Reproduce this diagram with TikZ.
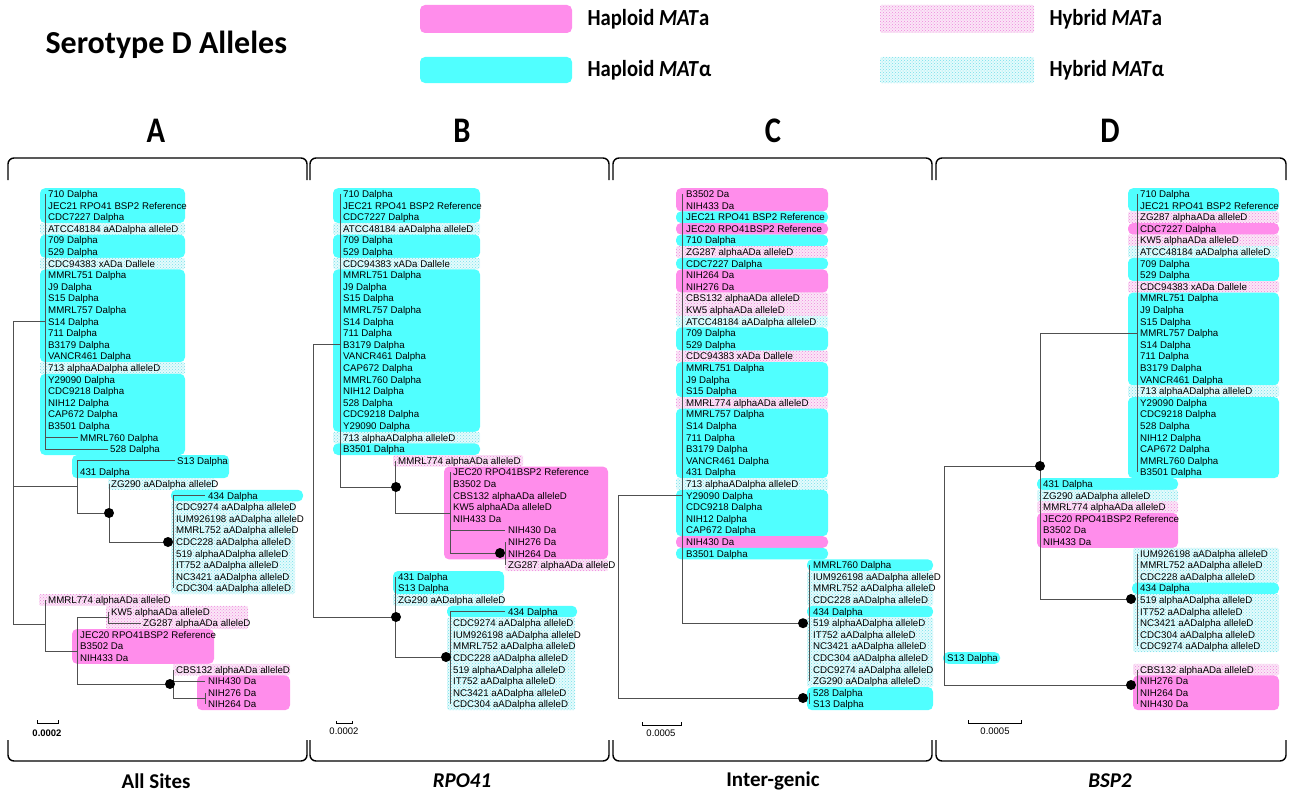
\documentclass[tikz,border=0pt]{standalone}
\usepackage{fontspec}
\setmainfont{Carlito}
\newfontfamily\arialf{Liberation Sans}
\usetikzlibrary{patterns}
\definecolor{hpa}{HTML}{FF8DEB}
\definecolor{hpal}{HTML}{50FFFF}
\definecolor{hya}{HTML}{FBE6F7}
\definecolor{hyad}{HTML}{EE88DD}
\definecolor{hyal}{HTML}{E4FBFC}
\definecolor{hyald}{HTML}{77E0EA}
\definecolor{trc}{HTML}{505050}
\newcounter{lf}
\newcommand\RY[1]{194+11.6*(#1)}
\newcommand\lf[3]{\stepcounter{lf}\node[leaf] (L\arabic{lf}) at (#1,{\RY{#2}}) {#3};}
\newcommand\bx[5]{\path[#1] (#2,{\RY{#4}-5.8}) rectangle (#3,{\RY{#5}+5.8});}
\newcommand\dt[3]{\node[dot] (#1) at (#2,#3) {};}
\tikzset{
 leaf/.style={anchor=west,inner sep=0pt,font=\arialf\fontsize{9.7}{10}\selectfont,text height=7pt,text depth=0pt},
 A/.style={fill=hpa,rounded corners=5pt},
 L/.style={fill=hpal,rounded corners=5pt},
 HA/.style={fill=hya,rounded corners=1.5pt,postaction={pattern=crosshatch dots,pattern color=hyad}},
 HL/.style={fill=hyal,rounded corners=1.5pt,postaction={pattern=crosshatch dots,pattern color=hyald}},
 tr/.style={draw=trc,line width=0.8pt},
 dot/.style={circle,fill=black,inner sep=0pt,minimum size=10pt},
 br/.style={draw=black,line width=1.4pt,rounded corners=6pt},
 lab/.style={font=\bfseries\fontsize{36}{40}\selectfont},
 blab/.style={font=\bfseries\fontsize{21}{24}\selectfont},
 leg/.style={anchor=west,font=\bfseries\fontsize{23}{26}\selectfont},
 sc/.style={font=\arialf\fontsize{9.5}{10}\selectfont}
}
\begin{document}
\begin{tikzpicture}[x=1pt,y=-1pt]
\useasboundingbox (0,0) rectangle (1293,800);
% header
\node[anchor=west,font=\bfseries\fontsize{32}{36}\selectfont] (title) at (42,45) {Serotype D Alleles};
\path[A] (420,5) rectangle (572,33); \node[leg] (l1) at (584,19) {\scalebox{0.9}[1]{Haploid \textit{MAT}a}};
\path[L] (420,57) rectangle (572,83); \node[leg] (l2) at (584,70) {\scalebox{0.9}[1]{Haploid \textit{MAT}α}};
\path[HA] (880,5) rectangle (1034,33); \node[leg] (l3) at (1046,19) {\scalebox{0.9}[1]{Hybrid \textit{MAT}a}};
\path[HL] (880,57) rectangle (1034,83); \node[leg] (l4) at (1046,70) {\scalebox{0.9}[1]{Hybrid \textit{MAT}α}};
\node[lab] (pa) at (156,131) {\scalebox{0.85}[1]{A}};
\node[lab] (pb) at (462,131) {\scalebox{0.85}[1]{B}};
\node[lab] (pc) at (773,131) {\scalebox{0.85}[1]{C}};
\node[lab] (pd) at (1110,131) {\scalebox{0.85}[1]{D}};
\node[blab] (ba) at (156,781) {All Sites};
\node[blab] (bb) at (462,781) {\textit{RPO41}};
\node[blab] (bc) at (773,781) {Inter-genic};
\node[blab] (bd) at (1110,781) {\textit{BSP2}};
% brackets
\foreach \a/\b in {8/307,310/609,613/932,936/1286}{
 \draw[br] (\a,180) -- (\a,158) -- (\b,158) -- (\b,180);
 \draw[br] (\a,740) -- (\a,761) -- (\b,761) -- (\b,740);
}
% ===== Panel A =====
\bx{L}{40}{185}{0}{2} \bx{HL}{40}{185}{3}{3} \bx{L}{40}{185}{4}{5} \bx{HL}{40}{185}{6}{6}
\bx{L}{40}{185}{7}{14} \bx{HL}{40}{185}{15}{15} \bx{L}{40}{185}{16}{22}
\bx{L}{72}{229}{23}{24} \bx{HL}{108}{215}{25}{25} \bx{L}{171}{303}{26}{26} \bx{HL}{171}{295}{27}{34}
\bx{HA}{39}{170}{35}{35} \bx{HA}{106}{248}{36}{37} \bx{A}{72}{214}{38}{40}
\bx{HA}{173}{290}{41}{41} \bx{A}{197}{290}{42}{44}
\foreach \r/\t in {0/710 Dalpha,1/JEC21 RPO41 BSP2 Reference,2/CDC7227 Dalpha,3/ATCC48184 aADalpha alleleD,4/709 Dalpha,5/529 Dalpha,6/CDC94383 xADa Dallele,7/MMRL751 Dalpha,8/J9 Dalpha,9/S15 Dalpha,10/MMRL757 Dalpha,11/S14 Dalpha,12/711 Dalpha,13/B3179 Dalpha,14/VANCR461 Dalpha,15/713 alphaADalpha alleleD,16/Y29090 Dalpha,17/CDC9218 Dalpha,18/NIH12 Dalpha,19/CAP672 Dalpha,20/B3501 Dalpha,35/MMRL774 alphaADa alleleD}{\lf{48}{\r}{\t}}
\lf{80}{21}{MMRL760 Dalpha} \lf{110}{22}{528 Dalpha}
\lf{177}{23}{S13 Dalpha} \lf{80}{24}{431 Dalpha} \lf{111}{25}{ZG290 aADalpha alleleD} \lf{208}{26}{434 Dalpha}
\foreach \r/\t in {27/CDC9274 aADalpha alleleD,28/IUM926198 aADalpha alleleD,29/MMRL752 aADalpha alleleD,30/CDC228 aADalpha alleleD,31/519 alphaADalpha alleleD,32/IT752 aADalpha alleleD,33/NC3421 aADalpha alleleD,34/CDC304 aADalpha alleleD,41/CBS132 alphaADa alleleD}{\lf{176}{\r}{\t}}
\lf{111}{36}{KW5 alphaADa alleleD} \lf{143}{37}{ZG287 alphaADa alleleD}
\lf{80}{38}{JEC20 RPO41BSP2 Reference} \lf{80}{39}{B3502 Da} \lf{80}{40}{NIH433 Da}
\lf{208}{42}{NIH430 Da} \lf{208}{43}{NIH276 Da} \lf{208}{44}{NIH264 Da}
\draw[tr] (45,{\RY{0}}) -- (45,{\RY{22}}) (45,{\RY{21}}) -- (78,{\RY{21}}) (45,{\RY{22}}) -- (108,{\RY{22}});
\draw[tr] (13,{\RY{11}}) -- (13,624) (13,{\RY{11}}) -- (45,{\RY{11}});
\draw[tr] (13,486) -- (77,486) (77,{\RY{23}}) -- (77,513) (77,{\RY{23}}) -- (175,{\RY{23}}) (77,513) -- (109,513)
 (109,{\RY{25}}) -- (109,542) -- (170,542) (173,{\RY{26}}) -- (173,{\RY{34}}) (173,{\RY{26}}) -- (205,{\RY{26}});
\draw[tr] (13,624) -- (45,624) (45,{\RY{35}}) -- (45,651) -- (77,651) (77,617) -- (77,684) (77,617) -- (108,617)
 (108,{\RY{36}}) -- (108,{\RY{37}}) -- (141,{\RY{37}}) (77,684) -- (170,684) (173,{\RY{41}}) -- (173,698) -- (205,698)
 (173,{\RY{42}}) -- (205,{\RY{42}}) (205,{\RY{43}}) -- (205,{\RY{44}});
\dt{a1}{109}{513} \dt{a2}{168}{542} \dt{a3}{170}{684}
\draw[line width=0.7pt] (37,720) -- (37,723) -- (58,723) -- (58,720);
\node[sc,font=\arialf\bfseries\fontsize{9.5}{10}\selectfont] (sa) at (47,733) {0.0002};
% ===== Panel B =====
\bx{L}{333}{480}{0}{2} \bx{HL}{333}{480}{3}{3} \bx{L}{333}{480}{4}{5} \bx{HL}{333}{480}{6}{6}
\bx{L}{333}{480}{7}{20} \bx{HL}{333}{480}{21}{21} \bx{L}{333}{480}{22}{22}
\bx{HA}{393}{523}{23}{23} \bx{A}{444}{608}{24}{31} \bx{HA}{505}{608}{32}{32}
\bx{L}{393}{504}{33}{34} \bx{HL}{393}{504}{35}{35} \bx{L}{447}{577}{36}{36} \bx{HL}{447}{575}{37}{44}
\foreach \r/\t in {0/710 Dalpha,1/JEC21 RPO41 BSP2 Reference,2/CDC7227 Dalpha,3/ATCC48184 aADalpha alleleD,4/709 Dalpha,5/529 Dalpha,6/CDC94383 xADa Dallele,7/MMRL751 Dalpha,8/J9 Dalpha,9/S15 Dalpha,10/MMRL757 Dalpha,11/S14 Dalpha,12/711 Dalpha,13/B3179 Dalpha,14/VANCR461 Dalpha,15/CAP672 Dalpha,16/MMRL760 Dalpha,17/NIH12 Dalpha,18/528 Dalpha,19/CDC9218 Dalpha,20/Y29090 Dalpha,21/713 alphaADalpha alleleD,22/B3501 Dalpha}{\lf{343}{\r}{\t}}
\lf{398}{23}{MMRL774 alphaADa alleleD}
\foreach \r/\t in {24/JEC20 RPO41BSP2 Reference,25/B3502 Da,26/CBS132 alphaADa alleleD,27/KW5 alphaADa alleleD,28/NIH433 Da,37/CDC9274 aADalpha alleleD,38/IUM926198 aADalpha alleleD,39/MMRL752 aADalpha alleleD,40/CDC228 aADalpha alleleD,41/519 alphaADalpha alleleD,42/IT752 aADalpha alleleD,43/NC3421 aADalpha alleleD,44/CDC304 aADalpha alleleD}{\lf{453}{\r}{\t}}
\lf{508}{29}{NIH430 Da} \lf{508}{30}{NIH276 Da} \lf{508}{31}{NIH264 Da} \lf{508}{32}{ZG287 alphaADa alleleD}
\lf{398}{33}{431 Dalpha} \lf{398}{34}{S13 Dalpha} \lf{398}{35}{ZG290 aADalpha alleleD} \lf{508}{36}{434 Dalpha}
\draw[tr] (340,{\RY{0}}) -- (340,487) -- (396,487) (313,{\RY{13}}) -- (313,617) (313,{\RY{13}}) -- (340,{\RY{13}})
 (395,{\RY{23}}) -- (395,513) -- (450,513) (450,{\RY{24}}) -- (450,553) -- (500,553) (450,{\RY{29}}) -- (505,{\RY{29}})
 (505,{\RY{30}}) -- (505,{\RY{32}})
 (313,617) -- (396,617) (395,{\RY{33}}) -- (395,657) -- (446,657) (450,{\RY{36}}) -- (450,{\RY{44}}) (450,{\RY{36}}) -- (505,{\RY{36}});
\dt{b1}{396}{487} \dt{b2}{500}{553} \dt{b3}{396}{617} \dt{b4}{446}{657}
\draw[line width=0.7pt] (336,721) -- (336,723) -- (352,723) -- (352,721);
\node[sc] (sb) at (344,731) {0.0002};
% ===== Panel C =====
\bx{A}{676}{828}{0}{1} \bx{L}{676}{828}{2}{2} \bx{A}{676}{828}{3}{3} \bx{L}{676}{828}{4}{4}
\bx{HA}{676}{828}{5}{5} \bx{L}{676}{828}{6}{6} \bx{A}{676}{828}{7}{8} \bx{HA}{676}{828}{9}{10}
\bx{HL}{676}{828}{11}{11} \bx{L}{676}{828}{12}{13} \bx{HA}{676}{828}{14}{14} \bx{L}{676}{828}{15}{17}
\bx{HA}{676}{828}{18}{18} \bx{L}{676}{828}{19}{24} \bx{HL}{676}{828}{25}{25} \bx{L}{676}{828}{26}{29}
\bx{A}{676}{828}{30}{30} \bx{L}{676}{828}{31}{31}
\bx{L}{807}{933}{32}{32} \bx{HL}{807}{933}{33}{35} \bx{L}{807}{933}{36}{36} \bx{HL}{807}{933}{37}{42} \bx{L}{807}{933}{43}{44}
\foreach \r/\t in {0/B3502 Da,1/NIH433 Da,2/JEC21 RPO41 BSP2 Reference,3/JEC20 RPO41BSP2 Reference,4/710 Dalpha,5/ZG287 alphaADa alleleD,6/CDC7227 Dalpha,7/NIH264 Da,8/NIH276 Da,9/CBS132 alphaADa alleleD,10/KW5 alphaADa alleleD,11/ATCC48184 aADalpha alleleD,12/709 Dalpha,13/529 Dalpha,14/CDC94383 xADa Dallele,15/MMRL751 Dalpha,16/J9 Dalpha,17/S15 Dalpha,18/MMRL774 alphaADa alleleD,19/MMRL757 Dalpha,20/S14 Dalpha,21/711 Dalpha,22/B3179 Dalpha,23/VANCR461 Dalpha,24/431 Dalpha,25/713 alphaADalpha alleleD,26/Y29090 Dalpha,27/CDC9218 Dalpha,28/NIH12 Dalpha,29/CAP672 Dalpha,30/NIH430 Da,31/B3501 Dalpha}{\lf{686}{\r}{\t}}
\foreach \r/\t in {32/MMRL760 Dalpha,33/IUM926198 aADalpha alleleD,34/MMRL752 aADalpha alleleD,35/CDC228 aADalpha alleleD,36/434 Dalpha,37/519 alphaADalpha alleleD,38/IT752 aADalpha alleleD,39/NC3421 aADalpha alleleD,40/CDC304 aADalpha alleleD,41/CDC9274 aADalpha alleleD,42/ZG290 aADalpha alleleD,43/528 Dalpha,44/S13 Dalpha}{\lf{813}{\r}{\t}}
\draw[tr] (682,{\RY{0}}) -- (682,{\RY{37}}) -- (803,{\RY{37}}) (809,{\RY{32}}) -- (809,{\RY{42}})
 (618,{\RY{26}}) -- (618,698) -- (803,698) (618,{\RY{26}}) -- (682,{\RY{26}}) (809,{\RY{43}}) -- (809,{\RY{44}});
\dt{c1}{803}{{\RY{37}}} \dt{c2}{803}{698}
\draw[line width=0.7pt] (642,722) -- (642,725) -- (681,725) -- (681,722);
\node[sc] (scl) at (661,733) {0.0005};
% ===== Panel D =====
\bx{L}{1128}{1279}{0}{1} \bx{HA}{1128}{1279}{2}{2} \bx{A}{1128}{1279}{3}{3} \bx{HA}{1128}{1279}{4}{4}
\bx{HL}{1128}{1279}{5}{5} \bx{L}{1128}{1279}{6}{7} \bx{HA}{1128}{1279}{8}{8} \bx{L}{1128}{1279}{9}{16}
\bx{HL}{1128}{1279}{17}{17} \bx{L}{1128}{1279}{18}{24}
\bx{L}{1037}{1178}{25}{25} \bx{HL}{1037}{1178}{26}{26} \bx{HA}{1037}{1178}{27}{27} \bx{A}{1037}{1178}{28}{30}
\bx{HL}{1133}{1279}{31}{33} \bx{L}{1132}{1279}{34}{34} \bx{HL}{1133}{1279}{35}{39}
\bx{L}{943}{1000}{40}{40} \bx{HA}{1133}{1279}{41}{41} \bx{A}{1133}{1279}{42}{44}
\foreach \r/\t in {0/710 Dalpha,1/JEC21 RPO41 BSP2 Reference,2/ZG287 alphaADa alleleD,3/CDC7227 Dalpha,4/KW5 alphaADa alleleD,5/ATCC48184 aADalpha alleleD,6/709 Dalpha,7/529 Dalpha,8/CDC94383 xADa Dallele,9/MMRL751 Dalpha,10/J9 Dalpha,11/S15 Dalpha,12/MMRL757 Dalpha,13/S14 Dalpha,14/711 Dalpha,15/B3179 Dalpha,16/VANCR461 Dalpha,17/713 alphaADalpha alleleD,18/Y29090 Dalpha,19/CDC9218 Dalpha,20/528 Dalpha,21/NIH12 Dalpha,22/CAP672 Dalpha,23/MMRL760 Dalpha,24/B3501 Dalpha,31/IUM926198 aADalpha alleleD,32/MMRL752 aADalpha alleleD,33/CDC228 aADalpha alleleD,34/434 Dalpha,35/519 alphaADalpha alleleD,36/IT752 aADalpha alleleD,37/NC3421 aADalpha alleleD,38/CDC304 aADalpha alleleD,39/CDC9274 aADalpha alleleD,41/CBS132 alphaADa alleleD,42/NIH276 Da,43/NIH264 Da,44/NIH430 Da}{\lf{1140}{\r}{\t}}
\foreach \r/\t in {25/431 Dalpha,26/ZG290 aADalpha alleleD,27/MMRL774 alphaADa alleleD,28/JEC20 RPO41BSP2 Reference,29/B3502 Da,30/NIH433 Da}{\lf{1043}{\r}{\t}}
\lf{947}{40}{S13 Dalpha}
\draw[tr] (1137,{\RY{0}}) -- (1137,{\RY{24}}) (1040,{\RY{12}}) -- (1137,{\RY{12}}) (1040,{\RY{12}}) -- (1040,599) -- (1131,599)
 (944,466) -- (944,685) (944,466) -- (1040,466) (1137,{\RY{31}}) -- (1137,{\RY{39}}) (944,685) -- (1131,685) (1137,{\RY{41}}) -- (1137,{\RY{44}});
\dt{d1}{1040}{466} \dt{d2}{1131}{599} \dt{d3}{1131}{685}
\draw[line width=0.7pt] (968,720) -- (968,723) -- (1021,723) -- (1021,720);
\node[sc] (sd) at (995,731) {0.0005};
\end{tikzpicture}
\end{document}
